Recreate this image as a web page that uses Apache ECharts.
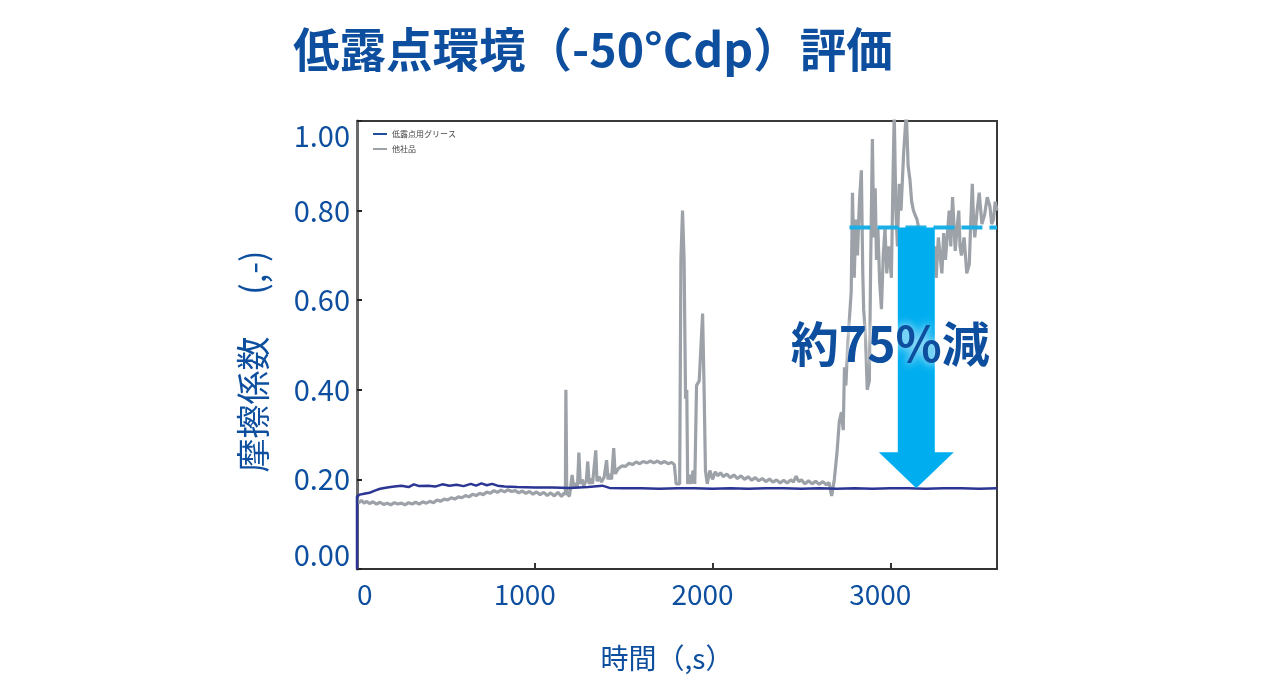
<!DOCTYPE html>
<html><head><meta charset="utf-8">
<script src="https://cdn.jsdelivr.net/npm/echarts@6/dist/echarts.min.js"></script>
<style>html,body{margin:0;padding:0;background:#fff}#c{width:1280px;height:695px}</style>
</head><body><div id="c"></div>
<script>
const titleText = '低露点環境（-50°Cdp）評価';
const seriesNames = ['低露点用グリース', '他社品'];
const xTickLabels = {0: '0', 1000: '1000', 2000: '2000', 3000: '3000'};
const yTickLabels = {0: '0.00', 0.2: '0.20', 0.4: '0.40', 0.6: '0.60', 0.8: '0.80', 1: '1.00'};
const xAxisName = '時間（,s）';
const yAxisName = '摩擦係数　 (,-)';
const annotationText = '約75%減';

// [time s, friction coefficient]
const greaseData = [
  [0,0],[0,0.162],[15,0.166],[40,0.168],[70,0.17],[100,0.175],[130,0.179],[170,0.182],[210,0.184],
  [250,0.186],[290,0.183],[320,0.189],[350,0.185],[400,0.186],[440,0.184],[480,0.189],[520,0.186],
  [560,0.188],[600,0.185],[640,0.19],[670,0.186],[700,0.191],[730,0.187],[760,0.19],[790,0.186],
  [830,0.184],[900,0.183],[1000,0.182],[1100,0.182],[1200,0.181],[1300,0.183],[1380,0.186],
  [1420,0.181],[1500,0.18],[1600,0.18],[1700,0.179],[1800,0.18],[1900,0.18],[2000,0.179],
  [2100,0.18],[2200,0.179],[2300,0.18],[2400,0.18],[2500,0.179],[2600,0.18],[2700,0.179],
  [2800,0.18],[2900,0.179],[3000,0.18],[3100,0.18],[3200,0.179],[3300,0.18],[3400,0.18],[3500,0.179],[3600,0.18]
];

const competitorData = [
  [0,0.155],[10,0.148],[25,0.153],[40,0.147],[55,0.151],[70,0.146],[90,0.15],[110,0.145],[130,0.149],
  [150,0.144],[170,0.147],[190,0.143],[210,0.148],[230,0.145],[250,0.147],[270,0.143],[290,0.148],
  [310,0.145],[330,0.149],[350,0.145],[370,0.15],[390,0.147],[410,0.151],[430,0.148],[450,0.154],
  [470,0.151],[490,0.156],[510,0.154],[530,0.159],[550,0.156],[570,0.161],[590,0.159],[610,0.164],
  [630,0.161],[650,0.167],[670,0.164],[690,0.169],[710,0.166],[730,0.172],[750,0.169],[770,0.175],
  [790,0.171],[810,0.176],[830,0.172],[850,0.177],[870,0.173],[890,0.175],[910,0.17],[930,0.174],
  [950,0.169],[970,0.173],[990,0.167],[1010,0.172],[1030,0.166],[1050,0.171],[1070,0.164],[1090,0.17],
  [1110,0.163],[1130,0.171],[1150,0.162],[1165,0.17],[1172,0.165],
  [1175,0.40],[1180,0.17],[1195,0.162],[1210,0.21],[1220,0.18],[1232,0.192],[1240,0.183],[1248,0.26],
  [1256,0.19],[1266,0.2],[1275,0.186],[1290,0.198],[1298,0.24],[1306,0.19],[1316,0.202],[1325,0.19],
  [1343,0.265],[1350,0.196],[1362,0.206],[1375,0.194],[1390,0.205],[1404,0.243],[1412,0.2],[1422,0.212],
  [1432,0.2],[1444,0.27],[1452,0.212],
  [1470,0.224],[1490,0.23],[1510,0.229],[1530,0.236],[1550,0.233],[1570,0.239],[1590,0.235],[1610,0.24],
  [1630,0.237],[1650,0.241],[1670,0.237],[1690,0.241],[1710,0.236],[1730,0.24],[1750,0.235],[1770,0.238],
  [1785,0.233],[1795,0.19],[1815,0.19],
  [1822,0.69],[1831,0.80],[1840,0.69],[1848,0.38],[1855,0.40],[1860,0.19],[1868,0.21],[1880,0.19],
  [1890,0.22],[1900,0.19],[1910,0.41],[1925,0.42],[1944,0.57],[1952,0.41],[1960,0.22],[1970,0.19],
  [1985,0.22],[2000,0.2],[2015,0.217],[2030,0.208],[2045,0.215],[2060,0.206],[2080,0.212],[2100,0.204],
  [2120,0.21],[2140,0.202],[2160,0.208],[2180,0.2],[2200,0.206],[2220,0.198],[2240,0.204],[2260,0.197],
  [2280,0.202],[2300,0.195],[2320,0.201],[2340,0.194],[2360,0.199],[2380,0.192],[2400,0.198],[2420,0.192],
  [2440,0.199],[2455,0.194],[2470,0.207],[2485,0.195],[2500,0.199],[2520,0.19],[2540,0.197],[2560,0.19],
  [2580,0.196],[2600,0.189],[2620,0.195],[2640,0.188],[2655,0.193],[2670,0.163],[2685,0.2],
  [2700,0.26],[2713,0.33],[2725,0.35],[2735,0.31],[2742,0.45],[2750,0.41],[2760,0.5],[2770,0.56],
  [2780,0.62],[2787,0.84],[2797,0.65],[2806,0.78],[2815,0.7],[2826,0.82],[2837,0.89],[2845,0.66],
  [2850,0.58],[2860,0.52],[2870,0.40],[2882,0.42],[2890,0.7],[2899,0.96],[2907,0.74],[2915,0.85],
  [2922,0.69],[2930,0.76],[2940,0.64],[2950,0.58],[2960,0.7],[2970,0.76],[2980,0.66],[2990,0.72],
  [3006,0.65],[3014,0.85],[3022,1.02],[3031,0.8],[3040,0.72],[3050,0.86],[3060,0.8],[3075,0.93],
  [3090,1.02],[3100,0.9],[3110,0.87],[3120,0.82],[3130,0.8],[3150,0.78],[3180,0.72],[3210,0.76],
  [3240,0.68],[3250,0.72],[3258,0.65],[3270,0.74],[3280,0.7],[3290,0.66],[3300,0.75],[3310,0.69],
  [3331,0.80],[3340,0.72],[3350,0.83],[3365,0.71],[3375,0.76],[3385,0.80],[3392,0.72],[3400,0.70],
  [3415,0.74],[3430,0.66],[3444,0.68],[3452,0.77],[3461,0.86],[3468,0.78],[3475,0.74],[3488,0.8],
  [3500,0.84],[3515,0.77],[3530,0.79],[3545,0.83],[3560,0.81],[3570,0.77],[3580,0.78],[3590,0.82],[3600,0.8]
];

const referenceLevel = [[2770,0.762],[3600,0.762]];
// arrow: [x, from, to]
const arrowData = [[3146, 0.762, 0.18]];

const blue = '#0d4f9e';
const chart = echarts.init(document.getElementById('c'));
chart.setOption({
  animation: false,
  title: {
    text: titleText, left: 288, top: 21,
    textStyle: {fontFamily: 'Noto Sans CJK JP', fontWeight: 'bold', fontSize: 46.5, color: blue}
  },
  legend: {
    data: seriesNames, orient: 'vertical', left: 368, top: 125, itemGap: 7,
    icon: 'rect', itemWidth: 14, itemHeight: 2,
    textStyle: {fontSize: 8, color: '#444', fontFamily: 'Noto Sans CJK JP'}
  },
  grid: {left: 357, right: 283, top: 121, bottom: 126, show: true, borderColor: '#3a3a3a', borderWidth: 2},
  xAxis: {
    type: 'value', min: 0, max: 3600, interval: 1000,
    name: xAxisName, nameLocation: 'middle', nameGap: 75,
    nameTextStyle: {fontFamily: 'Noto Sans CJK JP', fontSize: 28, color: blue, padding: [0, 20, 0, 0]},
    axisLine: {show: true, lineStyle: {color: '#333', width: 2}},
    axisTick: {show: true, inside: true, length: 6, lineStyle: {color: '#333', width: 2}},
    splitLine: {show: false},
    axisLabel: {
      margin: 11, fontFamily: 'Noto Sans CJK JP', fontSize: 28, color: blue,
      alignMinLabel: 'left', showMaxLabel: false, padding: [0, 20, 0, 0],
      formatter: v => xTickLabels[v] !== undefined ? xTickLabels[v] : ''
    }
  },
  yAxis: {
    type: 'value', min: 0, max: 1, interval: 0.2,
    name: yAxisName, nameLocation: 'middle', nameGap: 87, nameRotate: 90,
    nameTextStyle: {fontFamily: 'Noto Sans CJK JP', fontSize: 34, color: blue, padding: [0, 33, 0, 0]},
    axisLine: {show: true, lineStyle: {color: '#6a6a6a', width: 3}},
    axisTick: {show: true, inside: true, length: 5, lineStyle: {color: '#222', width: 2}},
    splitLine: {show: false},
    axisLabel: {
      margin: 7, fontFamily: 'Noto Sans CJK JP', fontSize: 29, color: blue,
      verticalAlignMinLabel: 'bottom', verticalAlignMaxLabel: 'top',
      formatter: v => {
        const k = Math.round(v * 10) / 10;
        return yTickLabels[k] !== undefined ? yTickLabels[k] : '';
      }
    }
  },
  series: [
    {
      name: seriesNames[1], type: 'line', data: competitorData, symbol: 'none',
      lineStyle: {color: '#9da2a8', width: 3.2}, itemStyle: {color: '#9da2a8'}, z: 2
    },
    {
      name: seriesNames[0], type: 'line', data: greaseData, symbol: 'none',
      lineStyle: {color: '#2b3594', width: 2.5}, itemStyle: {color: '#1f4f9c'}, z: 3
    },
    {
      type: 'line', data: referenceLevel, symbol: 'none', silent: true, z: 4,
      lineStyle: {color: '#1aafe6', width: 4, type: [21, 7]}
    },
    {
      type: 'custom', data: arrowData, z: 5, silent: true,
      renderItem: function (params, api) {
        const top = api.coord([api.value(0), api.value(1)]);
        const tip = api.coord([api.value(0), api.value(2)]);
        const sw = 18.5, hw = 37.5, hh = 36;
        const cx = top[0];
        const headY = tip[1] - hh;
        return {
          type: 'group',
          children: [
            {
              type: 'polygon',
              shape: {points: [
                [cx - sw, top[1]], [cx + sw, top[1]], [cx + sw, headY], [cx + hw, headY],
                [cx, tip[1]], [cx - hw, headY], [cx - sw, headY]
              ]},
              style: {fill: '#00aeef'}
            },
            {
              type: 'text',
              x: cx - 26, y: (top[1] + tip[1]) / 2 - 14,
              style: {
                text: annotationText, fill: blue, align: 'center', verticalAlign: 'middle',
                font: 'bold 48px "Noto Sans CJK JP"',
                textShadowColor: '#ffffff', textShadowBlur: 10
              }
            }
          ]
        };
      }
    }
  ]
});
</script></body></html>
